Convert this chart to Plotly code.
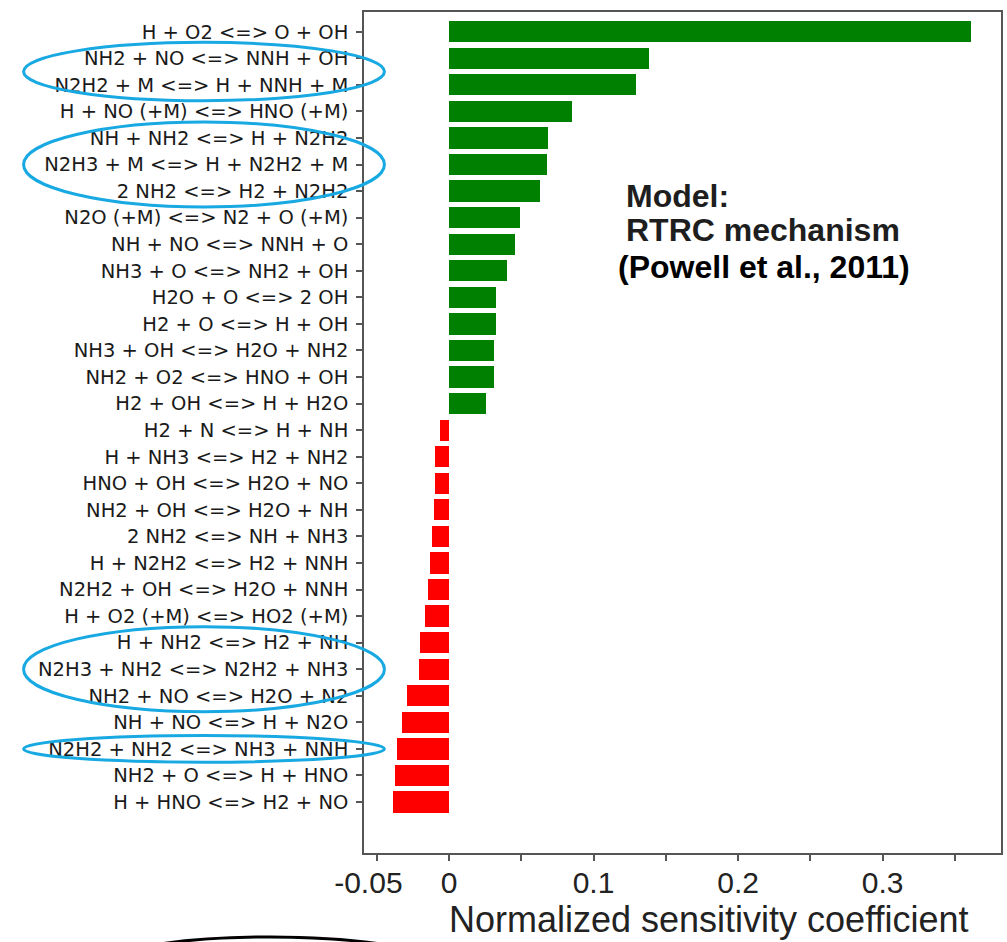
import plotly.graph_objects as go

# Reactions, listed top to bottom, with their normalized sensitivity coefficients
reactions = [
    "H + O2 <=> O + OH",
    "NH2 + NO <=> NNH + OH",
    "N2H2 + M <=> H + NNH + M",
    "H + NO (+M) <=> HNO (+M)",
    "NH + NH2 <=> H + N2H2",
    "N2H3 + M <=> H + N2H2 + M",
    "2 NH2 <=> H2 + N2H2",
    "N2O (+M) <=> N2 + O (+M)",
    "NH + NO <=> NNH + O",
    "NH3 + O <=> NH2 + OH",
    "H2O + O <=> 2 OH",
    "H2 + O <=> H + OH",
    "NH3 + OH <=> H2O + NH2",
    "NH2 + O2 <=> HNO + OH",
    "H2 + OH <=> H + H2O",
    "H2 + N <=> H + NH",
    "H + NH3 <=> H2 + NH2",
    "HNO + OH <=> H2O + NO",
    "NH2 + OH <=> H2O + NH",
    "2 NH2 <=> NH + NH3",
    "H + N2H2 <=> H2 + NNH",
    "N2H2 + OH <=> H2O + NNH",
    "H + O2 (+M) <=> HO2 (+M)",
    "H + NH2 <=> H2 + NH",
    "N2H3 + NH2 <=> N2H2 + NH3",
    "NH2 + NO <=> H2O + N2",
    "NH + NO <=> H + N2O",
    "N2H2 + NH2 <=> NH3 + NNH",
    "NH2 + O <=> H + HNO",
    "H + HNO <=> H2 + NO",
]
sensitivity = [
    0.3614, 0.1384, 0.1297, 0.0848, 0.0688, 0.0680, 0.0627, 0.0488,
    0.0460, 0.0398, 0.0327, 0.0327, 0.0308, 0.0308, 0.0253,
    -0.0064, -0.0097, -0.0097, -0.0106, -0.0121, -0.0128, -0.0145,
    -0.0168, -0.0200, -0.0207, -0.0292, -0.0324, -0.0363, -0.0372, -0.0386,
]

x_tick_values = [-0.05, 0, 0.05, 0.1, 0.15, 0.2, 0.25, 0.3, 0.35]
x_tick_text = ["-0.05\u00a0\u00a0", "0", "", "0.1", "", "0.2", "", "0.3", ""]
x_title = "Normalized sensitivity coefficient"
model_lines = ["Model:", "RTRC mechanism", "(Powell et al., 2011)"]

# Groups of reactions circled on the label side (first row, last row)
circled_groups = [(1, 2), (4, 6), (23, 25), (27, 27)]

# ---- layout geometry -------------------------------------------------------
W, H = 1007, 942
PL, PR, PT, PB = 364, 1003, 12, 853
X_RANGE = [-0.0588, 0.3819]
Y_RANGE = [30.92, -0.742]


def px_x(p):
    return (p - PL) / (PR - PL)


def px_y(p):
    return (PB - p) / (PB - PT)


def row_y(v):
    return (Y_RANGE[0] - v) / (Y_RANGE[0] - Y_RANGE[1])


rows = list(range(len(reactions)))
colors = ["#008000" if v >= 0 else "#ff0000" for v in sensitivity]

fig = go.Figure(
    go.Bar(
        x=sensitivity,
        y=rows,
        orientation="h",
        marker=dict(color=colors, line=dict(width=0)),
        width=0.8,
        hoverinfo="skip",
    )
)

label_font = "DejaVu Sans, Verdana, sans-serif"
arial = "Liberation Sans, Arial, Helvetica, sans-serif"

fig.update_layout(
    width=W,
    height=H,
    margin=dict(l=PL, r=W - PR, t=PT, b=H - PB, pad=0),
    paper_bgcolor="white",
    plot_bgcolor="white",
    showlegend=False,
    bargap=0,
    xaxis=dict(
        range=X_RANGE,
        tickvals=x_tick_values,
        ticktext=x_tick_text,
        ticks="outside",
        ticklen=6,
        tickwidth=1.5,
        tickcolor="#555",
        showgrid=False,
        zeroline=False,
        showline=True,
        linecolor="#555",
        linewidth=1.5,
        mirror=True,
        ticklabelstandoff=-4,
        tickfont=dict(family=arial, size=30, color="#222"),
    ),
    yaxis=dict(
        range=Y_RANGE,
        tickvals=rows,
        ticktext=reactions,
        ticks="outside",
        ticklen=6,
        tickwidth=1.5,
        tickcolor="#555",
        showgrid=False,
        zeroline=False,
        showline=True,
        linecolor="#555",
        linewidth=1.5,
        mirror=True,
        ticklabelstandoff=4,
        tickfont=dict(family=label_font, size=19.5, color="#1a1a1a"),
    ),
)

# Axis title, placed under the tick labels
fig.add_annotation(
    x=px_x(710), y=px_y(919), xref="paper", yref="paper",
    text=x_title, showarrow=False, xanchor="center", yanchor="middle",
    font=dict(family=arial, size=36, color="#222"),
)

# Model note inside the plot
note_pos = [(625, 196, "#1e1e1e"), (625, 230, "#1e1e1e"), (617, 267, "#000")]
for line, (nx, ny, col) in zip(model_lines, note_pos):
    fig.add_annotation(
        x=px_x(nx), y=px_y(ny), xref="paper", yref="paper",
        text=f"<b>{line}</b>", showarrow=False, xanchor="left", yanchor="middle",
        font=dict(family=arial, size=32, color=col),
    )

# Cyan ellipses around the highlighted reaction labels
for first, last in circled_groups:
    pad = 0.6 if last > first else 0.5
    fig.add_shape(
        type="circle", xref="paper", yref="paper",
        x0=px_x(22.5), x1=px_x(384.5),
        y0=row_y(first - pad), y1=row_y(last + pad),
        line=dict(color="#18a9e2", width=3),
        fillcolor="rgba(0,0,0,0)",
        layer="above",
    )

# Black outline partly visible along the bottom edge
fig.add_shape(
    type="circle", xref="paper", yref="paper",
    x0=px_x(75), x1=px_x(465), y0=px_y(937), y1=px_y(1017),
    line=dict(color="black", width=3),
    fillcolor="rgba(0,0,0,0)",
    layer="above",
)

fig.write_html("out.html")
